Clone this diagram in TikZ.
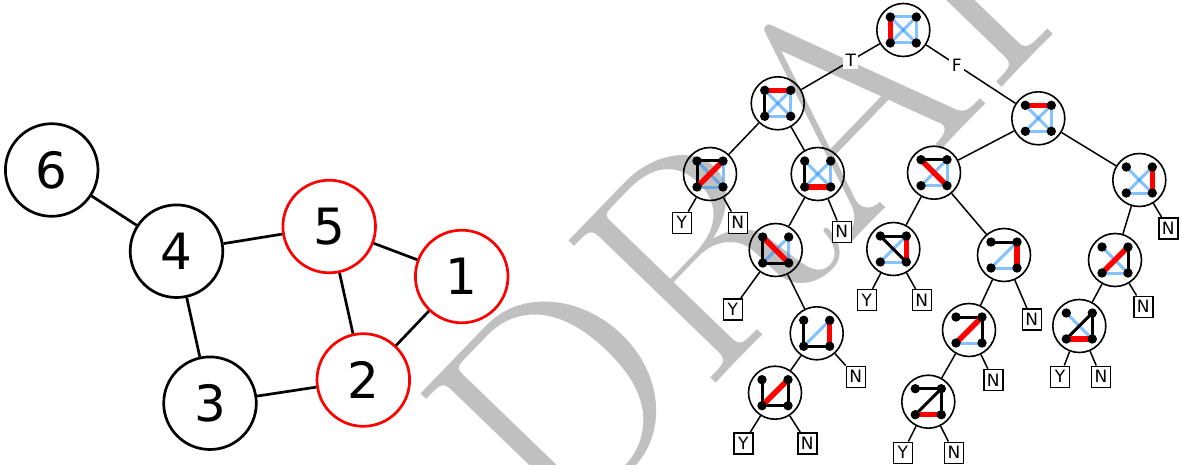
\documentclass[tikz,border=0pt]{standalone}
\usepackage{fontspec}
\newfontfamily\dv{DejaVu Sans}
\definecolor{wm}{RGB}{192,192,192}
\definecolor{eblue}{RGB}{30,144,255}
\definecolor{ered}{RGB}{255,0,0}
\tikzset{
 big/.style={circle, draw, line width=2.7pt, minimum size=92.6pt, inner sep=0pt, font=\dv\fontsize{50}{60}\selectfont},
 bigred/.style={big, draw=ered},
 gedge/.style={line width=2.7pt},
 tn/.style={circle, draw, line width=1.6pt, minimum size=53pt, inner sep=0pt},
 leaf/.style={draw, fill=white, line width=1.4pt, minimum width=19pt, minimum height=21pt, inner sep=0pt, font=\dv\fontsize{17}{20}\selectfont},
 tedge/.style={line width=1.5pt},
 lbl/.style={fill=white, inner sep=2.5pt, font=\dv\fontsize{17}{20}\selectfont},
 blu/.style={line width=3pt, draw=eblue, draw opacity=0.55},
 blk/.style={line width=3pt, draw=black},
 rd/.style={line width=5.5pt, draw=ered},
}
\newcommand\minig[4]{%
  \coordinate (#1a) at ([shift={(-13,-13)}]#1.center);
  \coordinate (#1b) at ([shift={(13,-13)}]#1.center);
  \coordinate (#1c) at ([shift={(-13,13)}]#1.center);
  \coordinate (#1d) at ([shift={(13,13)}]#1.center);
  \def\tmpl{#2}\ifx\tmpl\empty\else\foreach \u/\v in {#2}{\draw[blu] (#1\u) -- (#1\v);}\fi
  \def\tmpl{#3}\ifx\tmpl\empty\else\foreach \u/\v in {#3}{\draw[blk] (#1\u) -- (#1\v);}\fi
  \def\tmpl{#4}\ifx\tmpl\empty\else\foreach \u/\v in {#4}{\draw[rd] (#1\u) -- (#1\v);}\fi
  \foreach \p in {a,b,c,d}{\fill (#1\p) circle (4.7pt);}
}
\begin{document}
\begin{tikzpicture}[x=1pt,y=-1pt]
\useasboundingbox (0,0) rectangle (1182,465);
\clip (0,0) rectangle (1182,465);
\fill[white] (0,0) rectangle (1182,465);
% watermark
\node[rotate=46, anchor=north west, inner sep=0pt, text=wm, font=\fontsize{300}{300}\selectfont] (wmk) at (405,400) {DRAFT};
% left graph
\node[big] (n6) at (51.7,170) {6};
\node[big] (n4) at (176.5,251.2) {4};
\node[bigred] (n5) at (329.2,226.5) {5};
\node[bigred] (n1) at (461.7,276.5) {1};
\node[bigred] (n2) at (363.3,380) {2};
\node[big] (n3) at (210,403.2) {3};
\draw[gedge] (n6) -- (n4);
\draw[gedge] (n4) -- (n5);
\draw[gedge] (n4) -- (n3);
\draw[gedge] (n5) -- (n1);
\draw[gedge] (n5) -- (n2);
\draw[gedge] (n1) -- (n2);
\draw[gedge] (n3) -- (n2);
% tree nodes
\node[tn] (R) at (903.3,30) {};
\node[tn] (A) at (777.7,103.3) {};
\node[tn] (B) at (1038.3,118.3) {};
\node[tn] (A1) at (710,174) {};
\node[tn] (A2) at (817.7,174) {};
\node[tn] (A21) at (775.7,250) {};
\node[tn] (A212) at (816.7,333.3) {};
\node[tn] (A2121) at (775,392.7) {};
\node[tn] (B1) at (934,172.7) {};
\node[tn] (B11) at (893.3,249) {};
\node[tn] (B12) at (1004,255) {};
\node[tn] (B121) at (969,330) {};
\node[tn] (B1211) at (928.3,401.7) {};
\node[tn] (B2) at (1139.3,180) {};
\node[tn] (B21) at (1115,260) {};
\node[tn] (B211) at (1079.3,326) {};
% leaves
\node[leaf] (A1y) at (681.7,222.7) {Y};
\node[leaf] (A1n) at (737.7,222.7) {N};
\node[leaf] (A2n) at (841.7,231.7) {N};
\node[leaf] (A21y) at (732.7,309.3) {Y};
\node[leaf] (A212n) at (855.7,376.7) {N};
\node[leaf] (A2121y) at (743.3,443.3) {Y};
\node[leaf] (A2121n) at (807.3,443.3) {N};
\node[leaf] (B11y) at (866.7,300) {Y};
\node[leaf] (B11n) at (921.7,300) {N};
\node[leaf] (B12n) at (1031.7,319.3) {N};
\node[leaf] (B121n) at (993.3,380) {N};
\node[leaf] (B1211y) at (902.7,452.7) {Y};
\node[leaf] (B1211n) at (954,452.7) {N};
\node[leaf] (B2n) at (1168.3,228.3) {N};
\node[leaf] (B21n) at (1143.3,306.7) {N};
\node[leaf] (B211y) at (1060,376.7) {Y};
\node[leaf] (B211n) at (1101,376.7) {N};
% tree edges
\draw[tedge] (R) -- node[lbl, pos=0.37] (lT) {T} (A);
\draw[tedge] (R) -- node[lbl, pos=0.343] (lF) {F} (B);
\draw[tedge] (A) -- (A1);
\draw[tedge] (A) -- (A2);
\draw[tedge] (A1) -- (A1y);
\draw[tedge] (A1) -- (A1n);
\draw[tedge] (A2) -- (A21);
\draw[tedge] (A2) -- (A2n);
\draw[tedge] (A21) -- (A21y);
\draw[tedge] (A21) -- (A212);
\draw[tedge] (A212) -- (A2121);
\draw[tedge] (A212) -- (A212n);
\draw[tedge] (A2121) -- (A2121y);
\draw[tedge] (A2121) -- (A2121n);
\draw[tedge] (B) -- (B1);
\draw[tedge] (B) -- (B2);
\draw[tedge] (B1) -- (B11);
\draw[tedge] (B1) -- (B12);
\draw[tedge] (B11) -- (B11y);
\draw[tedge] (B11) -- (B11n);
\draw[tedge] (B12) -- (B121);
\draw[tedge] (B12) -- (B12n);
\draw[tedge] (B121) -- (B1211);
\draw[tedge] (B121) -- (B121n);
\draw[tedge] (B1211) -- (B1211y);
\draw[tedge] (B1211) -- (B1211n);
\draw[tedge] (B2) -- (B21);
\draw[tedge] (B2) -- (B2n);
\draw[tedge] (B21) -- (B211);
\draw[tedge] (B21) -- (B21n);
\draw[tedge] (B211) -- (B211y);
\draw[tedge] (B211) -- (B211n);
% mini graphs: a=TL b=TR c=BL d=BR
\minig{R}{a/b,c/d,b/d,a/d,b/c}{}{a/c}
\minig{A}{b/d,c/d,a/d,b/c}{a/c}{a/b}
\minig{B}{b/d,c/d,a/d,b/c}{}{a/b}
\minig{A1}{a/d,b/d,c/d}{a/c,a/b}{b/c}
\minig{A2}{b/d,a/d,b/c}{a/c}{c/d}
\minig{A21}{b/c,b/d}{a/c,c/d}{a/d}
\minig{A212}{b/c}{a/c,c/d}{b/d}
\minig{A2121}{}{a/c,c/d,b/d}{b/c}
\minig{B1}{b/d,c/d,b/c}{a/b}{a/d}
\minig{B11}{b/c,c/d}{a/b,a/d}{b/d}
\minig{B12}{b/c,c/d}{a/b}{b/d}
\minig{B121}{c/d}{a/b,b/d}{b/c}
\minig{B1211}{}{a/b,b/d,b/c}{c/d}
\minig{B2}{a/d,b/c,c/d}{}{b/d}
\minig{B21}{a/d,c/d}{b/d}{b/c}
\minig{B211}{a/d}{b/d,b/c}{c/d}
\end{tikzpicture}
\end{document}
